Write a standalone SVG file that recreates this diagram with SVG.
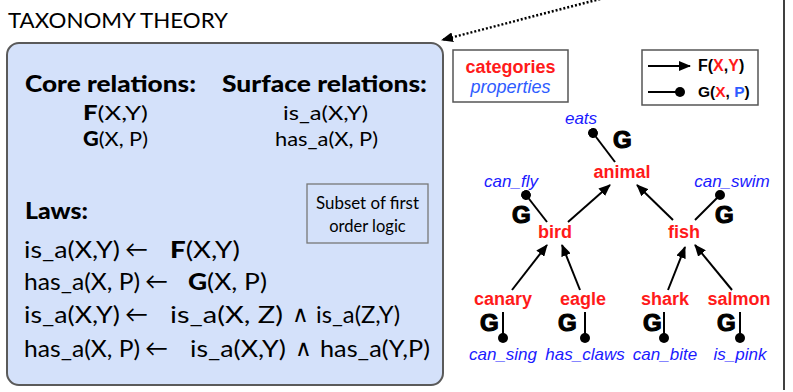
<svg xmlns="http://www.w3.org/2000/svg" width="793" height="392" viewBox="0 0 793 392">
<style>
.gs{font-family:Lato,"Open Sans","Liberation Sans",sans-serif;fill:#000}
.hd{font-weight:900;font-size:22px}
.rel{font-size:20px}
.law{font-size:23px}
.cat{font-family:"Liberation Sans",Arial,sans-serif;font-weight:bold;font-size:18px;fill:#ff1a1a;text-anchor:middle}
.prop{font-family:"Liberation Sans",Arial,sans-serif;font-style:italic;font-size:17px;fill:#1a1aff;text-anchor:middle}
.gl{font-family:"Liberation Sans",Arial,sans-serif;font-weight:bold;font-size:24px;fill:#000;stroke:#000;stroke-width:1.2}
.f{stroke:#000;stroke-width:2;fill:none}
.box{fill:#fff;stroke:#555;stroke-width:1.5}
</style>
<defs>
<marker id="ah" viewBox="0 0 12 10" refX="11" refY="5" markerWidth="12" markerHeight="10" markerUnits="userSpaceOnUse" orient="auto">
<path d="M0,0 L12,5 L0,10 Z" fill="#000"/>
</marker>
<marker id="dot" viewBox="0 0 10 10" refX="5" refY="5" markerWidth="10" markerHeight="10" markerUnits="userSpaceOnUse" orient="auto">
<circle cx="5" cy="5" r="5" fill="#000"/>
</marker>
<marker id="dah" viewBox="0 0 12 10" refX="11" refY="5" markerWidth="12" markerHeight="10" markerUnits="userSpaceOnUse" orient="auto">
<path d="M0,0 L12,5 L0,10 Z" fill="#000"/>
</marker>
</defs>
<rect x="0" y="0" width="793" height="392" fill="#fff"/>
<line x1="784" y1="0" x2="784" y2="390" stroke="#000" stroke-width="1.5"/>
<text class="gs" x="8" y="28" font-size="21" textLength="220" lengthAdjust="spacingAndGlyphs">TAXONOMY THEORY</text>
<g id="theory">
<rect x="7" y="43" width="436" height="342" rx="12" fill="#d4e1fa" stroke="#5a5a5a" stroke-width="2"/>
<text class="gs hd" x="25" y="92" textLength="171" lengthAdjust="spacingAndGlyphs">Core relations:</text>
<text class="gs hd" x="222" y="92" textLength="205" lengthAdjust="spacingAndGlyphs">Surface relations:</text>
<text class="gs rel" x="83" y="120" textLength="65" lengthAdjust="spacingAndGlyphs"><tspan font-weight="900">F</tspan>(X,Y)</text>
<text class="gs rel" x="83" y="146" textLength="65" lengthAdjust="spacingAndGlyphs"><tspan font-weight="900">G</tspan>(X, P)</text>
<text class="gs rel" x="283" y="120" textLength="85" lengthAdjust="spacingAndGlyphs">is_a(X,Y)</text>
<text class="gs rel" x="275" y="146" textLength="103" lengthAdjust="spacingAndGlyphs">has_a(X, P)</text>
<text class="gs hd" x="25" y="219" textLength="63" lengthAdjust="spacingAndGlyphs">Laws:</text>
<g id="subset">
<rect x="307" y="184" width="121" height="59" fill="none" stroke="#777" stroke-width="1.3"/>
<text class="gs" x="367.5" y="209" font-size="16.5" text-anchor="middle" textLength="103" lengthAdjust="spacingAndGlyphs">Subset of first</text>
<text class="gs" x="367.5" y="232" font-size="16.5" text-anchor="middle">order logic</text>
</g>
<text class="gs law" x="24" y="258" textLength="96" lengthAdjust="spacingAndGlyphs">is_a(X,Y)</text>
<text class="gs law" x="125" y="257" font-family="'DejaVu Sans',sans-serif" font-size="20">←</text>
<text class="gs law" x="170" y="258" textLength="70" lengthAdjust="spacingAndGlyphs"><tspan font-weight="900">F</tspan>(X,Y)</text>
<text class="gs law" x="24" y="290" textLength="116" lengthAdjust="spacingAndGlyphs">has_a(X, P)</text>
<text class="gs law" x="145" y="289" font-family="'DejaVu Sans',sans-serif" font-size="20">←</text>
<text class="gs law" x="188" y="290" textLength="79" lengthAdjust="spacingAndGlyphs"><tspan font-weight="900">G</tspan>(X, P)</text>
<text class="gs law" x="24" y="323" textLength="96" lengthAdjust="spacingAndGlyphs">is_a(X,Y)</text>
<text class="gs law" x="125" y="322" font-family="'DejaVu Sans',sans-serif" font-size="20">←</text>
<text class="gs law" x="170" y="323" textLength="113" lengthAdjust="spacingAndGlyphs">is_a(X, Z)</text>
<text class="gs law" x="292" y="322" font-family="'DejaVu Sans',sans-serif" font-size="20">∧</text>
<text class="gs law" x="316" y="323" textLength="84" lengthAdjust="spacingAndGlyphs">is_a(Z,Y)</text>
<text class="gs law" x="24" y="357" textLength="116" lengthAdjust="spacingAndGlyphs">has_a(X, P)</text>
<text class="gs law" x="145" y="356" font-family="'DejaVu Sans',sans-serif" font-size="20">←</text>
<text class="gs law" x="190" y="357" textLength="96" lengthAdjust="spacingAndGlyphs">is_a(X,Y)</text>
<text class="gs law" x="295" y="356" font-family="'DejaVu Sans',sans-serif" font-size="20">∧</text>
<text class="gs law" x="320" y="357" textLength="110" lengthAdjust="spacingAndGlyphs">has_a(Y,P)</text>
</g>
<g id="legend-colors">
<rect class="box" x="453" y="50" width="115" height="52"/>
<text class="cat" x="510.5" y="73">categories</text>
<text x="510.5" y="93" font-family="'Liberation Sans',Arial,sans-serif" font-style="italic" font-size="18" fill="#2e5cff" text-anchor="middle">properties</text>
</g>
<g id="legend-links">
<rect class="box" x="642" y="50" width="116" height="55"/>
<line class="f" x1="648" y1="66" x2="690" y2="66" marker-end="url(#ah)"/>
<line class="f" x1="648" y1="92" x2="680" y2="92" marker-end="url(#dot)"/>
<text x="698" y="71" font-family="'Liberation Sans',Arial,sans-serif" font-weight="bold" font-size="16">F(<tspan fill="#ff1a1a">X</tspan>,<tspan fill="#ff1a1a">Y</tspan>)</text>
<text x="698" y="97" font-family="'Liberation Sans',Arial,sans-serif" font-weight="bold" font-size="15.5">G(<tspan fill="#ff1a1a">X</tspan>, <tspan fill="#2e5cff">P</tspan>)</text>
</g>
<g id="connectors">
<path d="M604,-2 L442,40" stroke="#000" stroke-width="2.5" stroke-dasharray="2 2" fill="none" marker-end="url(#dah)"/>
<line class="f" x1="568" y1="222" x2="610" y2="185" marker-end="url(#ah)"/>
<line class="f" x1="673" y1="220" x2="637" y2="185" marker-end="url(#ah)"/>
<line class="f" x1="512" y1="290" x2="547" y2="245" marker-end="url(#ah)"/>
<line class="f" x1="580" y1="290" x2="562" y2="245" marker-end="url(#ah)"/>
<line class="f" x1="668" y1="290" x2="685" y2="247" marker-end="url(#ah)"/>
<line class="f" x1="732" y1="290" x2="695" y2="245" marker-end="url(#ah)"/>
<line class="f" x1="615" y1="162" x2="593" y2="133" marker-end="url(#dot)"/>
<line class="f" x1="547" y1="222" x2="526" y2="195" marker-end="url(#dot)"/>
<line class="f" x1="695" y1="220" x2="720" y2="195" marker-end="url(#dot)"/>
<line class="f" x1="503" y1="312" x2="503" y2="338" marker-end="url(#dot)"/>
<line class="f" x1="585" y1="312" x2="585" y2="338" marker-end="url(#dot)"/>
<line class="f" x1="664" y1="312" x2="664" y2="338" marker-end="url(#dot)"/>
<line class="f" x1="740" y1="312" x2="740" y2="338" marker-end="url(#dot)"/>
<text class="gl" x="613" y="148">G</text>
<text class="gl" x="512" y="223">G</text>
<text class="gl" x="715" y="223">G</text>
<text class="gl" x="480" y="331">G</text>
<text class="gl" x="558" y="331">G</text>
<text class="gl" x="643" y="331">G</text>
<text class="gl" x="717" y="331">G</text>
</g>
<g id="animal"><text class="cat" x="622" y="178">animal</text></g>
<g id="bird"><text class="cat" x="555" y="238">bird</text></g>
<g id="fish"><text class="cat" x="684" y="238">fish</text></g>
<g id="canary"><text class="cat" x="503" y="305">canary</text></g>
<g id="eagle"><text class="cat" x="583" y="305">eagle</text></g>
<g id="shark"><text class="cat" x="665" y="305">shark</text></g>
<g id="salmon"><text class="cat" x="739" y="305">salmon</text></g>
<g id="eats"><text class="prop" x="581" y="124">eats</text></g>
<g id="can_fly"><text class="prop" x="511" y="187">can_fly</text></g>
<g id="can_swim"><text class="prop" x="732" y="187">can_swim</text></g>
<g id="can_sing"><text class="prop" x="503" y="360">can_sing</text></g>
<g id="has_claws"><text class="prop" x="585" y="360">has_claws</text></g>
<g id="can_bite"><text class="prop" x="665" y="360">can_bite</text></g>
<g id="is_pink"><text class="prop" x="740" y="360">is_pink</text></g>
</svg>
